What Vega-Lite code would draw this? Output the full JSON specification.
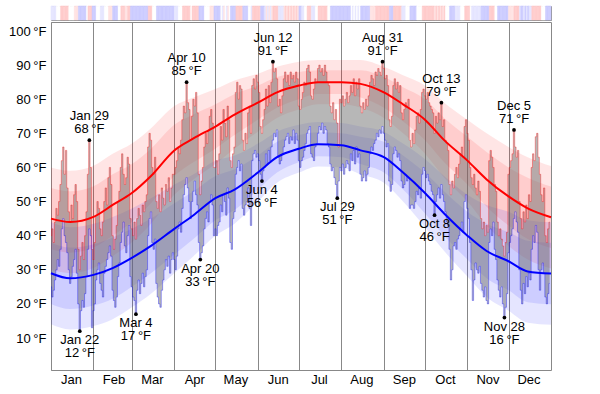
{
"$schema": "https://vega.github.io/schema/vega-lite/v6.json",
"padding": {"left": 8, "top": 5, "right": 0, "bottom": 0},
"background": "white",
"spacing": 0,
"config": {"font": "Liberation Sans", "view": {"stroke": "#888"}, "axisY": {"labelOverlap": false, "labelFlush": false}},
"datasets": {
"norm": [
{"d":"2011/01/01","hm":45,"h1":30,"h2":36,"h3":54,"h4":60,"lm":29,"l1":14,"l2":20,"l3":38,"l4":44},
{"d":"2011/01/15","hm":44,"h1":29,"h2":35,"h3":53,"h4":59,"lm":27.5,"l1":12.5,"l2":18.5,"l3":36.5,"l4":42.5},
{"d":"2011/02/01","hm":45.5,"h1":30.5,"h2":36.5,"h3":54.5,"h4":60.5,"lm":28.5,"l1":13.5,"l2":19.5,"l3":37.5,"l4":43.5},
{"d":"2011/02/15","hm":49,"h1":34,"h2":40,"h3":58,"h4":64,"lm":30.5,"l1":15.5,"l2":21.5,"l3":39.5,"l4":45.5},
{"d":"2011/03/01","hm":52.5,"h1":38,"h2":44,"h3":61,"h4":67,"lm":33.5,"l1":19,"l2":25,"l3":42,"l4":48},
{"d":"2011/03/15","hm":57.5,"h1":43.5,"h2":49.5,"h3":65.5,"h4":71.5,"lm":37,"l1":23,"l2":29,"l3":45,"l4":51},
{"d":"2011/04/01","hm":65,"h1":52,"h2":57.5,"h3":72.5,"h4":78,"lm":42,"l1":29,"l2":34.5,"l3":49.5,"l4":55},
{"d":"2011/04/15","hm":68.5,"h1":56.5,"h2":61.5,"h3":75.5,"h4":80.5,"lm":46,"l1":34,"l2":39,"l3":53,"l4":58},
{"d":"2011/05/01","hm":72,"h1":61,"h2":65.5,"h3":78.5,"h4":83,"lm":51,"l1":40,"l2":44.5,"l3":57.5,"l4":62},
{"d":"2011/05/15","hm":75.5,"h1":65.5,"h2":69.5,"h3":81.5,"h4":85.5,"lm":53.5,"l1":43.5,"l2":47.5,"l3":59.5,"l4":63.5},
{"d":"2011/06/01","hm":79,"h1":70.5,"h2":74,"h3":84,"h4":87.5,"lm":58.5,"l1":50,"l2":53.5,"l3":63.5,"l4":67},
{"d":"2011/06/15","hm":82,"h1":74.5,"h2":77.5,"h3":86.5,"h4":89.5,"lm":63,"l1":55.5,"l2":58.5,"l3":67.5,"l4":70.5},
{"d":"2011/07/01","hm":84,"h1":77,"h2":80,"h3":88,"h4":91,"lm":65.5,"l1":58.5,"l2":61.5,"l3":69.5,"l4":72.5},
{"d":"2011/07/15","hm":85,"h1":78.5,"h2":81.5,"h3":88.5,"h4":91.5,"lm":66.8,"l1":60.3,"l2":63.3,"l3":70.3,"l4":73.3},
{"d":"2011/08/01","hm":85,"h1":78.5,"h2":81.5,"h3":88.5,"h4":91.5,"lm":66.5,"l1":60,"l2":63,"l3":70,"l4":73},
{"d":"2011/08/15","hm":84.5,"h1":77.5,"h2":80.5,"h3":88.5,"h4":91.5,"lm":65,"l1":58,"l2":61,"l3":69,"l4":72},
{"d":"2011/09/01","hm":82,"h1":74.5,"h2":77.5,"h3":86.5,"h4":89.5,"lm":63,"l1":55.5,"l2":58.5,"l3":67.5,"l4":70.5},
{"d":"2011/09/15","hm":78.5,"h1":70,"h2":73.5,"h3":83.5,"h4":87,"lm":58.5,"l1":50,"l2":53.5,"l3":63.5,"l4":67},
{"d":"2011/10/01","hm":74,"h1":64,"h2":68,"h3":80,"h4":84,"lm":52.5,"l1":42.5,"l2":46.5,"l3":58.5,"l4":62.5},
{"d":"2011/10/15","hm":68,"h1":57,"h2":61.5,"h3":74.5,"h4":79,"lm":46.5,"l1":35.5,"l2":40,"l3":53,"l4":57.5},
{"d":"2011/11/01","hm":62,"h1":50,"h2":55,"h3":69,"h4":74,"lm":40,"l1":28,"l2":33,"l3":47,"l4":52},
{"d":"2011/11/15","hm":56.5,"h1":43,"h2":48.5,"h3":64.5,"h4":70,"lm":35.5,"l1":22,"l2":27.5,"l3":43.5,"l4":49},
{"d":"2011/12/01","hm":51.5,"h1":37,"h2":43,"h3":60,"h4":66,"lm":32.5,"l1":18,"l2":24,"l3":41,"l4":47},
{"d":"2011/12/15","hm":48,"h1":33,"h2":39,"h3":57,"h4":63,"lm":29.5,"l1":14.5,"l2":20.5,"l3":38.5,"l4":44.5},
{"d":"2011/12/31 23:59","hm":45.4,"h1":30.4,"h2":36.4,"h3":54.4,"h4":60.4,"lm":28.9,"l1":13.9,"l2":19.9,"l3":37.9,"l4":43.9}
],
"ticksY": [{"v":10},{"v":20},{"v":30},{"v":40},{"v":50},{"v":60},{"v":70},{"v":80},{"v":90},{"v":100}],
"annH": [
{"d":"2011/01/29","v":68,"t":"Jan 29\n68\u2009°F"},
{"d":"2011/04/10","v":85,"t":"Apr 10\n85\u2009°F"},
{"d":"2011/06/12","v":91,"t":"Jun 12\n91\u2009°F"},
{"d":"2011/08/31","v":91,"t":"Aug 31\n91\u2009°F"},
{"d":"2011/10/13","v":79,"t":"Oct 13\n79\u2009°F"},
{"d":"2011/12/05","v":71,"t":"Dec 5\n71\u2009°F"}
],
"annL": [
{"d":"2011/01/22","v":12,"t":"Jan 22\n12\u2009°F"},
{"d":"2011/03/04","v":17,"t":"Mar 4\n17\u2009°F"},
{"d":"2011/04/20","v":33,"t":"Apr 20\n33\u2009°F"},
{"d":"2011/06/04","v":56,"t":"Jun 4\n56\u2009°F"},
{"d":"2011/07/29","v":51,"t":"Jul 29\n51\u2009°F"},
{"d":"2011/10/08","v":46,"t":"Oct 8\n46\u2009°F"},
{"d":"2011/11/28","v":16,"t":"Nov 28\n16\u2009°F"}
],
"daily": [
{"d":"2011/01/01","h":40,"l":25,"s":-1},{"d":"2011/01/02","h":42,"l":22,"s":-1},{"d":"2011/01/03","h":38,"l":24,"s":-1},{"d":"2011/01/04","h":44,"l":27,"s":-1},{"d":"2011/01/05","h":48,"l":30,"s":0},{"d":"2011/01/06","h":46,"l":33,"s":0},{"d":"2011/01/07","h":50,"l":31,"s":0},{"d":"2011/01/08","h":55,"l":36,"s":2},{"d":"2011/01/09","h":62,"l":42,"s":2},{"d":"2011/01/10","h":66,"l":45,"s":2},{"d":"2011/01/11","h":58,"l":40,"s":2},{"d":"2011/01/12","h":65,"l":38,"s":2},{"d":"2011/01/13","h":54,"l":35,"s":2},{"d":"2011/01/14","h":47,"l":30,"s":0},{"d":"2011/01/15","h":44,"l":26,"s":0},{"d":"2011/01/16","h":49,"l":28,"s":0},{"d":"2011/01/17","h":45,"l":31,"s":0},{"d":"2011/01/18","h":52,"l":33,"s":1},{"d":"2011/01/19","h":55,"l":36,"s":1},{"d":"2011/01/20","h":50,"l":29,"s":1},{"d":"2011/01/21","h":36,"l":20,"s":-2},{"d":"2011/01/22","h":30,"l":12,"s":-2},{"d":"2011/01/23","h":34,"l":18,"s":-2},{"d":"2011/01/24","h":38,"l":21,"s":-2},{"d":"2011/01/25","h":33,"l":19,"s":-2},{"d":"2011/01/26","h":40,"l":23,"s":-2},{"d":"2011/01/27","h":47,"l":28,"s":0},{"d":"2011/01/28","h":58,"l":36,"s":2},{"d":"2011/01/29","h":68,"l":42,"s":2},{"d":"2011/01/30","h":60,"l":40,"s":2},{"d":"2011/01/31","h":36,"l":13,"s":-2},
{"d":"2011/02/01","h":33,"l":18,"s":-2},{"d":"2011/02/02","h":38,"l":20,"s":-2},{"d":"2011/02/03","h":46,"l":27,"s":0},{"d":"2011/02/04","h":50,"l":30,"s":0},{"d":"2011/02/05","h":48,"l":32,"s":0},{"d":"2011/02/06","h":42,"l":26,"s":-1},{"d":"2011/02/07","h":40,"l":24,"s":-1},{"d":"2011/02/08","h":44,"l":22,"s":-1},{"d":"2011/02/09","h":50,"l":29,"s":0},{"d":"2011/02/10","h":54,"l":31,"s":0},{"d":"2011/02/11","h":49,"l":33,"s":0},{"d":"2011/02/12","h":57,"l":35,"s":1},{"d":"2011/02/13","h":60,"l":37,"s":1},{"d":"2011/02/14","h":55,"l":34,"s":1},{"d":"2011/02/15","h":40,"l":24,"s":-2},{"d":"2011/02/16","h":36,"l":21,"s":-2},{"d":"2011/02/17","h":39,"l":19,"s":-2},{"d":"2011/02/18","h":43,"l":22,"s":-2},{"d":"2011/02/19","h":50,"l":28,"s":0},{"d":"2011/02/20","h":53,"l":32,"s":0},{"d":"2011/02/21","h":60,"l":38,"s":2},{"d":"2011/02/22","h":64,"l":41,"s":2},{"d":"2011/02/23","h":58,"l":44,"s":2},{"d":"2011/02/24","h":55,"l":37,"s":1},{"d":"2011/02/25","h":57,"l":35,"s":1},{"d":"2011/02/26","h":63,"l":40,"s":2},{"d":"2011/02/27","h":61,"l":43,"s":2},{"d":"2011/02/28","h":45,"l":28,"s":-2},
{"d":"2011/03/01","h":42,"l":25,"s":-2},{"d":"2011/03/02","h":40,"l":22,"s":-2},{"d":"2011/03/03","h":44,"l":21,"s":-2},{"d":"2011/03/04","h":39,"l":17,"s":-2},{"d":"2011/03/05","h":45,"l":24,"s":-2},{"d":"2011/03/06","h":48,"l":27,"s":-2},{"d":"2011/03/07","h":46,"l":23,"s":-2},{"d":"2011/03/08","h":43,"l":26,"s":-2},{"d":"2011/03/09","h":49,"l":29,"s":-2},{"d":"2011/03/10","h":47,"l":25,"s":-2},{"d":"2011/03/11","h":50,"l":28,"s":-2},{"d":"2011/03/12","h":52,"l":30,"s":-2},{"d":"2011/03/13","h":66,"l":40,"s":2},{"d":"2011/03/14","h":70,"l":45,"s":2},{"d":"2011/03/15","h":68,"l":47,"s":2},{"d":"2011/03/16","h":60,"l":38,"s":0},{"d":"2011/03/17","h":58,"l":36,"s":0},{"d":"2011/03/18","h":63,"l":39,"s":0},{"d":"2011/03/19","h":50,"l":26,"s":-2},{"d":"2011/03/20","h":48,"l":22,"s":-2},{"d":"2011/03/21","h":52,"l":20,"s":-2},{"d":"2011/03/22","h":47,"l":19,"s":-2},{"d":"2011/03/23","h":54,"l":24,"s":-2},{"d":"2011/03/24","h":51,"l":27,"s":-2},{"d":"2011/03/25","h":49,"l":30,"s":-2},{"d":"2011/03/26","h":55,"l":33,"s":-2},{"d":"2011/03/27","h":53,"l":31,"s":-2},{"d":"2011/03/28","h":57,"l":34,"s":-2},{"d":"2011/03/29","h":50,"l":29,"s":-2},{"d":"2011/03/30","h":54,"l":33,"s":-2},{"d":"2011/03/31","h":58,"l":35,"s":-2},
{"d":"2011/04/01","h":58,"l":33,"s":-1},{"d":"2011/04/02","h":60,"l":30,"s":-1},{"d":"2011/04/03","h":62,"l":34,"s":-1},{"d":"2011/04/04","h":66,"l":42,"s":0},{"d":"2011/04/05","h":64,"l":44,"s":0},{"d":"2011/04/06","h":68,"l":41,"s":0},{"d":"2011/04/07","h":74,"l":48,"s":2},{"d":"2011/04/08","h":78,"l":52,"s":2},{"d":"2011/04/09","h":76,"l":55,"s":2},{"d":"2011/04/10","h":85,"l":57,"s":2},{"d":"2011/04/11","h":79,"l":54,"s":2},{"d":"2011/04/12","h":77,"l":50,"s":2},{"d":"2011/04/13","h":68,"l":45,"s":0},{"d":"2011/04/14","h":75,"l":50,"s":2},{"d":"2011/04/15","h":80,"l":53,"s":2},{"d":"2011/04/16","h":78,"l":56,"s":2},{"d":"2011/04/17","h":82,"l":52,"s":2},{"d":"2011/04/18","h":76,"l":49,"s":2},{"d":"2011/04/19","h":58,"l":38,"s":-2},{"d":"2011/04/20","h":52,"l":33,"s":-2},{"d":"2011/04/21","h":56,"l":35,"s":-2},{"d":"2011/04/22","h":60,"l":37,"s":-2},{"d":"2011/04/23","h":66,"l":42,"s":0},{"d":"2011/04/24","h":70,"l":45,"s":0},{"d":"2011/04/25","h":67,"l":47,"s":0},{"d":"2011/04/26","h":71,"l":44,"s":0},{"d":"2011/04/27","h":75,"l":50,"s":1},{"d":"2011/04/28","h":77,"l":52,"s":1},{"d":"2011/04/29","h":73,"l":49,"s":1},{"d":"2011/04/30","h":60,"l":40,"s":-2},
{"d":"2011/05/01","h":60,"l":42,"s":-2},{"d":"2011/05/02","h":62,"l":40,"s":-2},{"d":"2011/05/03","h":58,"l":43,"s":-2},{"d":"2011/05/04","h":64,"l":44,"s":-2},{"d":"2011/05/05","h":72,"l":49,"s":0},{"d":"2011/05/06","h":68,"l":47,"s":-1},{"d":"2011/05/07","h":77,"l":52,"s":1},{"d":"2011/05/08","h":73,"l":50,"s":0},{"d":"2011/05/09","h":69,"l":46,"s":-1},{"d":"2011/05/10","h":78,"l":54,"s":1},{"d":"2011/05/11","h":74,"l":51,"s":0},{"d":"2011/05/12","h":62,"l":38,"s":-2},{"d":"2011/05/13","h":60,"l":36,"s":-2},{"d":"2011/05/14","h":64,"l":45,"s":-2},{"d":"2011/05/15","h":66,"l":47,"s":-2},{"d":"2011/05/16","h":82,"l":58,"s":2},{"d":"2011/05/17","h":85,"l":60,"s":2},{"d":"2011/05/18","h":80,"l":62,"s":2},{"d":"2011/05/19","h":84,"l":59,"s":2},{"d":"2011/05/20","h":83,"l":61,"s":2},{"d":"2011/05/21","h":68,"l":48,"s":-2},{"d":"2011/05/22","h":65,"l":46,"s":-2},{"d":"2011/05/23","h":70,"l":49,"s":-2},{"d":"2011/05/24","h":67,"l":50,"s":-2},{"d":"2011/05/25","h":76,"l":54,"s":0},{"d":"2011/05/26","h":78,"l":48,"s":0},{"d":"2011/05/27","h":70,"l":43,"s":-1},{"d":"2011/05/28","h":84,"l":62,"s":2},{"d":"2011/05/29","h":86,"l":64,"s":2},{"d":"2011/05/30","h":83,"l":65,"s":2},{"d":"2011/05/31","h":87,"l":63,"s":2},
{"d":"2011/06/01","h":85,"l":64,"s":2},{"d":"2011/06/02","h":82,"l":62,"s":2},{"d":"2011/06/03","h":72,"l":58,"s":-2},{"d":"2011/06/04","h":70,"l":56,"s":-2},{"d":"2011/06/05","h":74,"l":59,"s":-2},{"d":"2011/06/06","h":77,"l":60,"s":-1},{"d":"2011/06/07","h":83,"l":64,"s":1},{"d":"2011/06/08","h":78,"l":61,"s":-1},{"d":"2011/06/09","h":84,"l":65,"s":1},{"d":"2011/06/10","h":79,"l":62,"s":-1},{"d":"2011/06/11","h":85,"l":66,"s":1},{"d":"2011/06/12","h":91,"l":68,"s":2},{"d":"2011/06/13","h":88,"l":70,"s":2},{"d":"2011/06/14","h":89,"l":69,"s":2},{"d":"2011/06/15","h":86,"l":71,"s":2},{"d":"2011/06/16","h":78,"l":63,"s":-1},{"d":"2011/06/17","h":80,"l":61,"s":-1},{"d":"2011/06/18","h":76,"l":62,"s":-1},{"d":"2011/06/19","h":81,"l":64,"s":-1},{"d":"2011/06/20","h":86,"l":66,"s":1},{"d":"2011/06/21","h":88,"l":68,"s":2},{"d":"2011/06/22","h":85,"l":69,"s":1},{"d":"2011/06/23","h":87,"l":70,"s":2},{"d":"2011/06/24","h":84,"l":67,"s":1},{"d":"2011/06/25","h":88,"l":69,"s":2},{"d":"2011/06/26","h":86,"l":68,"s":1},{"d":"2011/06/27","h":87,"l":71,"s":2},{"d":"2011/06/28","h":85,"l":67,"s":1},{"d":"2011/06/29","h":88,"l":70,"s":2},{"d":"2011/06/30","h":86,"l":68,"s":1},
{"d":"2011/07/01","h":78,"l":62,"s":-2},{"d":"2011/07/02","h":77,"l":60,"s":-2},{"d":"2011/07/03","h":80,"l":62,"s":-1},{"d":"2011/07/04","h":82,"l":63,"s":-1},{"d":"2011/07/05","h":85,"l":65,"s":0},{"d":"2011/07/06","h":84,"l":67,"s":0},{"d":"2011/07/07","h":89,"l":70,"s":2},{"d":"2011/07/08","h":90,"l":71,"s":2},{"d":"2011/07/09","h":88,"l":72,"s":2},{"d":"2011/07/10","h":81,"l":64,"s":-1},{"d":"2011/07/11","h":80,"l":63,"s":-1},{"d":"2011/07/12","h":83,"l":62,"s":-1},{"d":"2011/07/13","h":86,"l":66,"s":0},{"d":"2011/07/14","h":85,"l":67,"s":0},{"d":"2011/07/15","h":89,"l":70,"s":2},{"d":"2011/07/16","h":90,"l":72,"s":2},{"d":"2011/07/17","h":88,"l":71,"s":2},{"d":"2011/07/18","h":89,"l":73,"s":2},{"d":"2011/07/19","h":87,"l":70,"s":2},{"d":"2011/07/20","h":90,"l":72,"s":2},{"d":"2011/07/21","h":88,"l":71,"s":2},{"d":"2011/07/22","h":85,"l":67,"s":0},{"d":"2011/07/23","h":84,"l":66,"s":0},{"d":"2011/07/24","h":78,"l":61,"s":-2},{"d":"2011/07/25","h":76,"l":59,"s":-2},{"d":"2011/07/26","h":79,"l":60,"s":-2},{"d":"2011/07/27","h":74,"l":57,"s":-2},{"d":"2011/07/28","h":77,"l":55,"s":-2},{"d":"2011/07/29","h":73,"l":51,"s":-2},{"d":"2011/07/30","h":66,"l":56,"s":-2},{"d":"2011/07/31","h":80,"l":60,"s":-2},
{"d":"2011/08/01","h":79,"l":59,"s":-2},{"d":"2011/08/02","h":81,"l":61,"s":-2},{"d":"2011/08/03","h":78,"l":58,"s":-2},{"d":"2011/08/04","h":80,"l":60,"s":-2},{"d":"2011/08/05","h":82,"l":62,"s":-2},{"d":"2011/08/06","h":79,"l":61,"s":-2},{"d":"2011/08/07","h":81,"l":59,"s":-2},{"d":"2011/08/08","h":84,"l":64,"s":0},{"d":"2011/08/09","h":82,"l":62,"s":-1},{"d":"2011/08/10","h":86,"l":65,"s":0},{"d":"2011/08/11","h":81,"l":61,"s":-1},{"d":"2011/08/12","h":85,"l":66,"s":0},{"d":"2011/08/13","h":83,"l":63,"s":-1},{"d":"2011/08/14","h":86,"l":64,"s":0},{"d":"2011/08/15","h":78,"l":58,"s":-2},{"d":"2011/08/16","h":76,"l":56,"s":-2},{"d":"2011/08/17","h":79,"l":57,"s":-2},{"d":"2011/08/18","h":77,"l":59,"s":-2},{"d":"2011/08/19","h":80,"l":56,"s":-2},{"d":"2011/08/20","h":78,"l":58,"s":-2},{"d":"2011/08/21","h":81,"l":60,"s":-2},{"d":"2011/08/22","h":85,"l":64,"s":1},{"d":"2011/08/23","h":87,"l":66,"s":1},{"d":"2011/08/24","h":86,"l":65,"s":1},{"d":"2011/08/25","h":84,"l":67,"s":1},{"d":"2011/08/26","h":88,"l":68,"s":2},{"d":"2011/08/27","h":87,"l":70,"s":2},{"d":"2011/08/28","h":89,"l":69,"s":2},{"d":"2011/08/29","h":88,"l":71,"s":2},{"d":"2011/08/30","h":87,"l":70,"s":2},{"d":"2011/08/31","h":91,"l":72,"s":2},
{"d":"2011/09/01","h":89,"l":70,"s":2},{"d":"2011/09/02","h":86,"l":68,"s":2},{"d":"2011/09/03","h":87,"l":66,"s":2},{"d":"2011/09/04","h":84,"l":67,"s":2},{"d":"2011/09/05","h":74,"l":56,"s":-2},{"d":"2011/09/06","h":72,"l":53,"s":-2},{"d":"2011/09/07","h":75,"l":55,"s":-2},{"d":"2011/09/08","h":84,"l":64,"s":2},{"d":"2011/09/09","h":86,"l":66,"s":2},{"d":"2011/09/10","h":83,"l":65,"s":2},{"d":"2011/09/11","h":85,"l":63,"s":2},{"d":"2011/09/12","h":82,"l":64,"s":2},{"d":"2011/09/13","h":84,"l":62,"s":2},{"d":"2011/09/14","h":76,"l":56,"s":-1},{"d":"2011/09/15","h":74,"l":54,"s":-1},{"d":"2011/09/16","h":77,"l":55,"s":-1},{"d":"2011/09/17","h":79,"l":58,"s":0},{"d":"2011/09/18","h":78,"l":56,"s":0},{"d":"2011/09/19","h":80,"l":57,"s":0},{"d":"2011/09/20","h":68,"l":48,"s":-2},{"d":"2011/09/21","h":66,"l":49,"s":-2},{"d":"2011/09/22","h":70,"l":49,"s":-2},{"d":"2011/09/23","h":67,"l":48,"s":-2},{"d":"2011/09/24","h":71,"l":50,"s":-2},{"d":"2011/09/25","h":75,"l":53,"s":0},{"d":"2011/09/26","h":76,"l":52,"s":0},{"d":"2011/09/27","h":73,"l":54,"s":0},{"d":"2011/09/28","h":77,"l":51,"s":0},{"d":"2011/09/29","h":82,"l":58,"s":2},{"d":"2011/09/30","h":83,"l":60,"s":2},
{"d":"2011/10/01","h":81,"l":59,"s":2},{"d":"2011/10/02","h":80,"l":57,"s":2},{"d":"2011/10/03","h":82,"l":58,"s":2},{"d":"2011/10/04","h":79,"l":56,"s":2},{"d":"2011/10/05","h":78,"l":55,"s":2},{"d":"2011/10/06","h":77,"l":53,"s":2},{"d":"2011/10/07","h":76,"l":52,"s":2},{"d":"2011/10/08","h":70,"l":46,"s":1},{"d":"2011/10/09","h":75,"l":50,"s":2},{"d":"2011/10/10","h":73,"l":52,"s":1},{"d":"2011/10/11","h":76,"l":54,"s":2},{"d":"2011/10/12","h":74,"l":51,"s":1},{"d":"2011/10/13","h":79,"l":55,"s":2},{"d":"2011/10/14","h":72,"l":52,"s":1},{"d":"2011/10/15","h":74,"l":50,"s":2},{"d":"2011/10/16","h":68,"l":47,"s":0},{"d":"2011/10/17","h":67,"l":44,"s":0},{"d":"2011/10/18","h":65,"l":43,"s":0},{"d":"2011/10/19","h":55,"l":36,"s":-2},{"d":"2011/10/20","h":52,"l":27,"s":-2},{"d":"2011/10/21","h":56,"l":30,"s":-2},{"d":"2011/10/22","h":54,"l":37,"s":-2},{"d":"2011/10/23","h":58,"l":38,"s":-1},{"d":"2011/10/24","h":60,"l":36,"s":-1},{"d":"2011/10/25","h":57,"l":39,"s":-1},{"d":"2011/10/26","h":61,"l":40,"s":-1},{"d":"2011/10/27","h":64,"l":42,"s":0},{"d":"2011/10/28","h":66,"l":44,"s":0},{"d":"2011/10/29","h":63,"l":41,"s":0},{"d":"2011/10/30","h":72,"l":50,"s":2},{"d":"2011/10/31","h":74,"l":52,"s":2},
{"d":"2011/11/01","h":70,"l":48,"s":2},{"d":"2011/11/02","h":68,"l":45,"s":2},{"d":"2011/11/03","h":60,"l":38,"s":0},{"d":"2011/11/04","h":57,"l":30,"s":-1},{"d":"2011/11/05","h":55,"l":21,"s":-1},{"d":"2011/11/06","h":58,"l":27,"s":-1},{"d":"2011/11/07","h":54,"l":32,"s":-1},{"d":"2011/11/08","h":52,"l":30,"s":-1},{"d":"2011/11/09","h":56,"l":29,"s":-1},{"d":"2011/11/10","h":53,"l":31,"s":-1},{"d":"2011/11/11","h":45,"l":26,"s":-2},{"d":"2011/11/12","h":42,"l":24,"s":-2},{"d":"2011/11/13","h":44,"l":22,"s":-2},{"d":"2011/11/14","h":40,"l":25,"s":-2},{"d":"2011/11/15","h":43,"l":21,"s":-2},{"d":"2011/11/16","h":41,"l":20,"s":-2},{"d":"2011/11/17","h":62,"l":38,"s":2},{"d":"2011/11/18","h":65,"l":42,"s":2},{"d":"2011/11/19","h":63,"l":40,"s":2},{"d":"2011/11/20","h":60,"l":44,"s":2},{"d":"2011/11/21","h":55,"l":36,"s":0},{"d":"2011/11/22","h":53,"l":33,"s":0},{"d":"2011/11/23","h":44,"l":27,"s":-2},{"d":"2011/11/24","h":40,"l":24,"s":-2},{"d":"2011/11/25","h":42,"l":22,"s":-2},{"d":"2011/11/26","h":39,"l":25,"s":-2},{"d":"2011/11/27","h":37,"l":20,"s":-2},{"d":"2011/11/28","h":34,"l":16,"s":-2},{"d":"2011/11/29","h":38,"l":19,"s":-2},{"d":"2011/11/30","h":41,"l":23,"s":-2},
{"d":"2011/12/01","h":58,"l":35,"s":1},{"d":"2011/12/02","h":60,"l":38,"s":1},{"d":"2011/12/03","h":62,"l":40,"s":1},{"d":"2011/12/04","h":64,"l":42,"s":1},{"d":"2011/12/05","h":71,"l":45,"s":2},{"d":"2011/12/06","h":66,"l":47,"s":2},{"d":"2011/12/07","h":63,"l":44,"s":2},{"d":"2011/12/08","h":65,"l":41,"s":2},{"d":"2011/12/09","h":50,"l":30,"s":-1},{"d":"2011/12/10","h":45,"l":24,"s":-2},{"d":"2011/12/11","h":42,"l":20,"s":-2},{"d":"2011/12/12","h":47,"l":26,"s":-1},{"d":"2011/12/13","h":44,"l":23,"s":-2},{"d":"2011/12/14","h":49,"l":28,"s":-1},{"d":"2011/12/15","h":45,"l":25,"s":-2},{"d":"2011/12/16","h":52,"l":29,"s":-1},{"d":"2011/12/17","h":50,"l":27,"s":-1},{"d":"2011/12/18","h":60,"l":36,"s":2},{"d":"2011/12/19","h":64,"l":40,"s":2},{"d":"2011/12/20","h":62,"l":38,"s":2},{"d":"2011/12/21","h":69,"l":43,"s":2},{"d":"2011/12/22","h":70,"l":41,"s":2},{"d":"2011/12/23","h":63,"l":30,"s":2},{"d":"2011/12/24","h":58,"l":24,"s":2},{"d":"2011/12/25","h":52,"l":30,"s":0},{"d":"2011/12/26","h":50,"l":32,"s":0},{"d":"2011/12/27","h":54,"l":29,"s":0},{"d":"2011/12/28","h":40,"l":22,"s":-2},{"d":"2011/12/29","h":38,"l":20,"s":-2},{"d":"2011/12/30","h":42,"l":23,"s":-2},{"d":"2011/12/31","h":44,"l":26,"s":-2}
]
},
"vconcat": [
{
"width": 500, "height": 14,
"data": {"name": "daily"},
"mark": {"type": "rect", "strokeWidth": 0.6},
"encoding": {
"x": {"field": "d", "type": "ordinal", "timeUnit": "yearmonthdate", "scale": {"paddingInner": 0, "paddingOuter": 0}, "axis": null},
"y": {"datum": 0, "type": "quantitative", "scale": {"domain": [0, 1], "nice": false}, "axis": null},
"y2": {"datum": 1},
"color": {"field": "s", "type": "ordinal", "scale": {"domain": [-2, -1, 0, 1, 2], "range": ["#ccccff", "#e6e6ff", "#ffffff", "#ffe3e3", "#ffcccc"]}, "legend": null},
"stroke": {"field": "s", "type": "ordinal", "scale": {"domain": [-2, -1, 0, 1, 2], "range": ["#ccccff", "#e6e6ff", "#ffffff", "#ffe3e3", "#ffcccc"]}, "legend": null}
}
},
{
"width": 500, "height": 348,
"encoding": {
"x": {"field": "d", "type": "temporal", "scale": {"domain": [{"year":2011,"month":1,"date":1},{"year":2012,"month":1,"date":1}]},
"axis": {"title": null, "tickCount": 14, "values": [{"year":2011,"month":1,"date":1},{"year":2011,"month":2,"date":1},{"year":2011,"month":3,"date":1},{"year":2011,"month":4,"date":1},{"year":2011,"month":5,"date":1},{"year":2011,"month":6,"date":1},{"year":2011,"month":7,"date":1},{"year":2011,"month":8,"date":1},{"year":2011,"month":9,"date":1},{"year":2011,"month":10,"date":1},{"year":2011,"month":11,"date":1},{"year":2011,"month":12,"date":1}],
"format": "%b", "labelAlign": "center", "labelOffset": 20, "labelFlush": false, "labelOverlap": false, "grid": true, "gridColor": "#888", "gridOpacity": 1, "ticks": false, "domain": false, "labelFontSize": 13, "labelPadding": 3, "labelColor": "#000"}}
},
"layer": [
{"data": {"name": "ticksY"}, "mark": {"type": "rule", "color": "#d4d4d4", "strokeWidth": 1},
 "encoding": {"y": {"field": "v", "type": "quantitative", "title": null, "scale": {"domain": [0.62, 102.64], "nice": false, "zero": false},
 "axis": {"values": [10,20,30,40,50,60,70,80,90,100], "tickCount": 12, "labelExpr": "datum.value + '\u2009°F'", "labelOverlap": false, "grid": false, "ticks": false, "domain": false, "labelFontSize": 13, "labelPadding": 5, "labelColor": "#000", "labelFlush": false, "labelBound": false}}}},
{"data": {"name": "norm"}, "mark": {"type": "area", "color": "#ff0000", "opacity": 0.1, "interpolate": "monotone"},
 "encoding": {"y": {"field": "h4", "type": "quantitative", "title": null}, "y2": {"field": "h1"}}},
{"data": {"name": "norm"}, "mark": {"type": "area", "color": "#ff0000", "opacity": 0.1, "interpolate": "monotone"},
 "encoding": {"y": {"field": "h3", "type": "quantitative", "title": null}, "y2": {"field": "h2"}}},
{"data": {"name": "norm"}, "mark": {"type": "area", "color": "#0000ff", "opacity": 0.1, "interpolate": "monotone"},
 "encoding": {"y": {"field": "l4", "type": "quantitative", "title": null}, "y2": {"field": "l1"}}},
{"data": {"name": "norm"}, "mark": {"type": "area", "color": "#0000ff", "opacity": 0.1, "interpolate": "monotone"},
 "encoding": {"y": {"field": "l3", "type": "quantitative", "title": null}, "y2": {"field": "l2"}}},
{"data": {"name": "daily"}, "mark": {"type": "area", "color": "#707070", "opacity": 0.5, "interpolate": "step"},
 "encoding": {"y": {"field": "h", "type": "quantitative", "title": null}, "y2": {"field": "l"}}},
{"data": {"name": "daily"}, "mark": {"type": "line", "color": "#ff0000", "opacity": 0.35, "strokeWidth": 1, "interpolate": "step"},
 "encoding": {"y": {"field": "h", "type": "quantitative", "title": null}}},
{"data": {"name": "daily"}, "mark": {"type": "line", "color": "#0000ff", "opacity": 0.35, "strokeWidth": 1, "interpolate": "step"},
 "encoding": {"y": {"field": "l", "type": "quantitative", "title": null}}},
{"data": {"values": [{}]}, "mark": {"type": "rule", "color": "#666", "strokeWidth": 1},
 "encoding": {"y": {"datum": 32, "type": "quantitative"}}},
{"data": {"name": "norm"}, "mark": {"type": "line", "color": "#ff0000", "strokeWidth": 2, "interpolate": "monotone"},
 "encoding": {"y": {"field": "hm", "type": "quantitative", "title": null}}},
{"data": {"name": "norm"}, "mark": {"type": "line", "color": "#0000ff", "strokeWidth": 2, "interpolate": "monotone"},
 "encoding": {"y": {"field": "lm", "type": "quantitative", "title": null}}},
{"data": {"name": "annH"}, "mark": {"type": "point", "filled": true, "color": "#000", "opacity": 1, "size": 14},
 "encoding": {"y": {"field": "v", "type": "quantitative", "title": null}}},
{"data": {"name": "annL"}, "mark": {"type": "point", "filled": true, "color": "#000", "opacity": 1, "size": 14},
 "encoding": {"y": {"field": "v", "type": "quantitative", "title": null}}},
{"data": {"name": "annH"}, "mark": {"type": "text", "lineBreak": "\n", "lineHeight": 13, "baseline": "bottom", "dy": -17, "fontSize": 13, "color": "#000"},
 "encoding": {"y": {"field": "v", "type": "quantitative", "title": null}, "text": {"field": "t"}}},
{"data": {"name": "annL"}, "mark": {"type": "text", "lineBreak": "\n", "lineHeight": 13, "baseline": "top", "dy": 3, "fontSize": 13, "color": "#000"},
 "encoding": {"y": {"field": "v", "type": "quantitative", "title": null}, "text": {"field": "t"}}}
]
}
]
}
